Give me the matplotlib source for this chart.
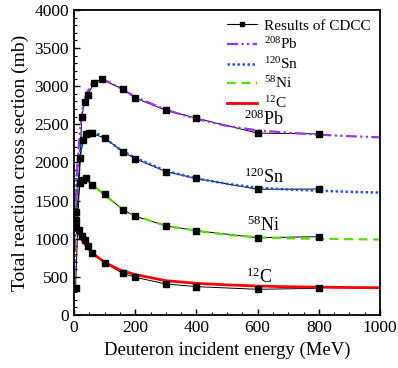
import matplotlib
matplotlib.use("Agg")
import matplotlib.pyplot as plt
from matplotlib.ticker import MultipleLocator
from matplotlib.lines import Line2D

plt.rcParams['font.family'] = ['Liberation Serif', 'DejaVu Serif']
plt.rcParams['mathtext.fontset'] = 'custom'
plt.rcParams['mathtext.rm'] = 'Liberation Serif'
plt.rcParams['mathtext.it'] = 'Liberation Serif:italic'

# CDCC results (markers)
pb_E = [5, 25, 35, 45, 65, 90, 160, 200, 300, 400, 600, 800]
pb_cdcc = [360, 2600, 2790, 2890, 3040, 3090, 2960, 2845, 2685, 2580, 2385, 2375]
sn_E = [5, 20, 30, 40, 50, 60, 100, 160, 200, 300, 400, 600, 800]
sn_cdcc = [1350, 2055, 2295, 2370, 2390, 2380, 2320, 2140, 2050, 1880, 1790, 1648, 1652]
ni_E = [5, 20, 30, 40, 60, 100, 160, 200, 300, 400, 600, 800]
ni_cdcc = [1250, 1730, 1775, 1790, 1705, 1583, 1380, 1295, 1171, 1105, 1014, 1027]
c_E = [5, 15, 25, 35, 45, 60, 100, 160, 200, 300, 400, 600, 800]
c_cdcc = [1160, 1115, 1040, 990, 905, 817, 678, 547, 494, 407, 372, 337, 350]

# Fitted curves
pb_fE = [1, 5, 10, 20, 30, 40, 60, 80, 100, 150, 200, 300, 400, 500, 600, 700, 800, 900, 1000]
pb_fit = [500, 1200, 1900, 2450, 2750, 2900, 3040, 3085, 3080, 2980, 2860, 2690, 2570, 2480, 2420, 2390, 2365, 2345, 2330]
sn_fE = [1, 5, 10, 20, 30, 40, 60, 80, 100, 150, 200, 300, 400, 500, 600, 700, 800, 900, 1000]
sn_fit = [700, 1500, 1900, 2150, 2300, 2370, 2390, 2370, 2320, 2170, 2060, 1890, 1790, 1720, 1670, 1645, 1630, 1615, 1605]
ni_fE = [1, 5, 10, 20, 30, 40, 60, 80, 100, 150, 200, 300, 400, 500, 600, 700, 800, 900, 1000]
ni_fit = [900, 1450, 1700, 1780, 1790, 1770, 1710, 1640, 1575, 1410, 1300, 1170, 1105, 1050, 1020, 1005, 1000, 995, 990]
c_fE = [5, 10, 20, 30, 50, 70, 100, 150, 200, 300, 400, 500, 600, 700, 800, 900, 1000]
c_fit = [1180, 1120, 1030, 960, 860, 780, 690, 590, 530, 450, 415, 395, 380, 370, 365, 360, 358]

labels = [r'$^{208}$Pb', r'$^{120}$Sn', r'$^{58}$Ni', r'$^{12}$C']

PB_LS = (0, (5, 1.5, 1, 1.5, 1, 1.5))
SN_LS = (0, (1, 1))
NI_LS = (0, (4, 2.5))

fig = plt.figure(figsize=(3.98, 3.68), dpi=100)
ax = fig.add_axes([0.186, 0.144, 0.769, 0.829])

for E, v in [(pb_E, pb_cdcc), (sn_E, sn_cdcc), (ni_E, ni_cdcc), (c_E, c_cdcc)]:
    ax.plot(E, v, color='black', lw=0.7, zorder=1)

ax.plot(c_fE, c_fit, color='red', lw=2.0, zorder=2)
ax.plot(ni_fE, ni_fit, color='#55dd00', lw=1.6, ls=NI_LS, zorder=2)
ax.plot(sn_fE, sn_fit, color='#2255ee', lw=1.8, ls=SN_LS, zorder=2)
ax.plot(pb_fE, pb_fit, color='#9933ee', lw=1.6, ls=PB_LS, zorder=2)

for E, v in [(pb_E, pb_cdcc), (sn_E, sn_cdcc), (ni_E, ni_cdcc), (c_E, c_cdcc)]:
    ax.plot(E, v, ls='none', color='black', marker='s', ms=3.8, zorder=3)

handles = [
    Line2D([], [], color='black', lw=0.8, marker='s', ms=3.5),
    Line2D([], [], color='#9933ee', lw=1.6, ls=PB_LS),
    Line2D([], [], color='#2255ee', lw=1.8, ls=SN_LS),
    Line2D([], [], color='#55dd00', lw=1.6, ls=NI_LS),
    Line2D([], [], color='red', lw=2.0),
]
ax.legend(handles, ['Results of CDCC'] + labels, loc='upper right', frameon=False,
          fontsize=11, handlelength=1.95, handletextpad=0.5, labelspacing=0.24,
          borderaxespad=0.3, borderpad=0.3)

ax.text(620, 2560, labels[0], fontsize=13, ha='center', va='center')
ax.text(620, 1800, labels[1], fontsize=13, ha='center', va='center')
ax.text(620, 1170, labels[2], fontsize=13, ha='center', va='center')
ax.text(605, 500, labels[3], fontsize=13, ha='center', va='center')

ax.set_xlim(0, 1000)
ax.set_ylim(0, 4000)
ax.xaxis.set_major_locator(MultipleLocator(200))
ax.xaxis.set_minor_locator(MultipleLocator(50))
ax.yaxis.set_major_locator(MultipleLocator(500))
ax.yaxis.set_minor_locator(MultipleLocator(100))
ax.tick_params(which='both', direction='in', top=False, right=False, labelsize=12.5)
ax.tick_params(which='major', length=4, width=1)
ax.tick_params(which='minor', length=2.5, width=0.8)
for s in ax.spines.values():
    s.set_linewidth(1.3)

ax.set_xlabel('Deuteron incident energy (MeV)', fontsize=13.5)
ax.set_ylabel('Total reaction cross section (mb)', fontsize=14)

fig.savefig('out.png', dpi=100)
